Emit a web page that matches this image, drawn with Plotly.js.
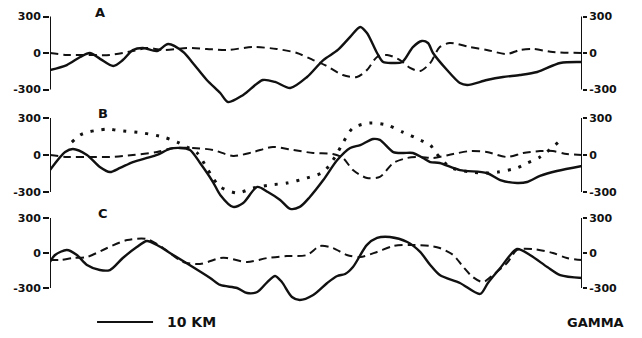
<!DOCTYPE html>
<html>
<head>
<meta charset="utf-8">
<script src="https://cdn.plot.ly/plotly-3.0.1.min.js"></script>
<style>html,body{margin:0;padding:0;background:#fff;}#chart{width:642px;height:338px;}</style>
</head>
<body>
<div id="chart"></div>
<script>
// ---- Data (distance in km, anomaly in gammas) ----
const panelLabels = ["A", "B", "C"];
const tickVals = [-300, 0, 300];
const tickText = ["-300", "0", "300"];
const scaleBarKm = 10;
const scaleBarLabel = "10 KM";
const unitLabel = "GAMMA";

// Panel A
const aSolidX = [0, 3.0, 5.4, 7.1, 9.0, 11.3, 13.0, 14.8, 16.6, 19.1, 21.1, 23.8, 25.5, 28.0, 30.4, 31.8, 34.5, 38.0, 40.2, 42.9, 45.9, 48.8, 51.4, 53.6, 55.4, 56.6, 58.4, 59.5, 61.1, 62.9, 64.8, 66.4, 67.5, 68.4, 70.9, 73.2, 74.5, 78.0, 80.9, 83.9, 87.0, 91.1, 95.0];
const aSolidY = [-140, -99, -33, 0, -50, -107, -58, 25, 41, 16, 74, 8, -82, -222, -329, -403, -345, -222, -238, -288, -197, -58, 25, 132, 214, 164, 0, -74, -82, -74, 49, 99, 82, 0, -140, -247, -263, -222, -197, -181, -156, -82, -74];
const aDashX = [0, 3.0, 6.6, 10.7, 14.8, 17.3, 20.2, 24.5, 28.0, 31.6, 36.3, 40.5, 44.1, 47.0, 49.1, 52.3, 54.8, 56.6, 58.4, 60.2, 62.5, 64.3, 66.1, 67.9, 69.6, 71.4, 75.0, 78.0, 81.6, 83.9, 86.3, 89.8, 95.0];
const aDashY = [0, -16, -16, -16, 16, 41, 25, 41, 33, 25, 49, 33, 0, -58, -99, -181, -197, -140, -33, -16, -58, -123, -148, -82, 49, 82, 49, 25, -8, 25, 33, 8, 0];

// Panel B
const bSolidX = [0, 2.7, 4.1, 6.6, 8.9, 10.7, 12.5, 14.8, 17.3, 19.1, 21.4, 23.2, 25.0, 26.8, 29.1, 30.4, 32.7, 34.5, 37.0, 38.9, 41.1, 42.9, 44.6, 46.4, 48.8, 51.3, 53.6, 55.4, 57.7, 58.9, 61.3, 63.0, 64.8, 66.6, 67.9, 69.6, 73.2, 78.0, 80.4, 83.4, 85.2, 87.5, 90.5, 95.0];
const bSolidY = [-122, 24, 49, 0, -97, -138, -105, -57, -24, 0, 49, 57, 41, -65, -219, -324, -421, -389, -259, -300, -365, -437, -421, -340, -203, -41, 57, 81, 130, 122, 24, 16, 16, -24, -57, -65, -122, -146, -203, -227, -219, -170, -130, -89];
const bDashX = [0, 3.0, 6.6, 10.7, 14.8, 19.1, 22.0, 25.5, 29.1, 32.7, 36.3, 39.8, 43.4, 47.0, 50.5, 52.3, 54.1, 56.6, 58.9, 61.3, 63.8, 66.1, 68.4, 72.0, 75.0, 78.0, 81.6, 84.5, 87.5, 89.8, 92.3, 95.0];
const bDashY = [0, -16, -16, -16, 0, 24, 57, 57, 41, -8, 24, 65, 41, 16, 8, -24, -122, -186, -178, -65, -24, -16, -24, 8, 32, 24, -16, 16, 32, 32, 8, 0];
const bDotX = [3.9, 5.4, 6.8, 8.4, 10.4, 12.0, 16.6, 20.2, 22.7, 24.5, 26.3, 28.0, 29.1, 30.4, 33.4, 36.3, 39.3, 42.3, 45.9, 48.8, 50.9, 52.3, 54.1, 57.1, 60.2, 63.0, 66.1, 67.9, 68.8, 71.4, 75.0, 78.0, 80.0, 83.4, 85.2, 87.5, 90.2, 91.6];
const bDotY = [105, 162, 186, 200, 210, 200, 178, 146, 105, 65, 16, -105, -186, -259, -308, -267, -243, -227, -186, -138, -16, 97, 219, 259, 243, 186, 122, 81, 24, -97, -138, -146, -138, -105, -65, -16, 81, 138];

// Panel C
const cSolidX = [0, 0.9, 3.0, 4.8, 6.6, 8.9, 10.7, 13.0, 15.5, 17.3, 19.1, 22.0, 25.5, 28.6, 30.4, 33.4, 35.2, 37.0, 38.8, 40.2, 41.4, 43.2, 44.6, 47.0, 49.5, 51.3, 52.7, 54.1, 56.6, 58.4, 60.7, 63.8, 66.1, 67.9, 69.6, 73.2, 76.8, 78.2, 80.4, 83.4, 85.7, 88.8, 91.1, 95.0];
const cSolidY = [-77, -17, 26, -17, -103, -146, -146, -43, 51, 103, 69, -17, -120, -214, -274, -300, -343, -334, -249, -197, -249, -377, -403, -360, -257, -197, -180, -120, 69, 129, 137, 94, 9, -103, -189, -257, -351, -257, -129, 34, -17, -120, -189, -214];
const cDashX = [0, 1.8, 4.1, 6.6, 10.2, 13.8, 17.3, 20.2, 23.8, 26.8, 30.4, 31.6, 35.2, 38.8, 42.3, 45.9, 48.2, 50.5, 53.0, 55.4, 58.4, 61.3, 64.3, 67.9, 69.6, 72.0, 73.8, 75.5, 77.3, 79.1, 81.6, 83.4, 86.3, 89.8, 92.3, 95.0];
const cDashY = [-60, -60, -43, -34, 43, 111, 120, 43, -77, -94, -43, -43, -77, -43, -26, -17, 60, 43, -17, -34, 9, 60, 69, 60, 43, -17, -120, -206, -249, -189, -86, 26, 34, 0, -43, -60];

// ---- Styling / layout ----
const W = 642, H = 338;
const FONT = "DejaVu Sans";
const INK = "#111";
// pixel placement of each panel: zero-line pixel, pixels per 300 gammas, visible range
const panels = [
  {zero: 53, px300: 36.5, range: [-480, 430]},
  {zero: 155, px300: 37, range: [-500, 400]},
  {zero: 253, px300: 35, range: [-600, 400]}
];
function domainFor(p) {
  const k = p.px300 / 300;
  const top = p.zero - p.range[1] * k;
  const bot = p.zero - p.range[0] * k;
  return [1 - bot / H, 1 - top / H];
}
const solid = {color: INK, width: 2.4, shape: "spline", smoothing: 0.8};
const dashed = {color: INK, width: 2, dash: "8px,5px", shape: "spline", smoothing: 0.8};
const dotted = {color: INK, width: 3, dash: "3px,8px", shape: "spline", smoothing: 0.8};

function tr(x, y, line, ax) {
  return {x: x, y: y, type: "scatter", mode: "lines", line: line, xaxis: "x", yaxis: ax, hoverinfo: "skip", showlegend: false};
}
// dashed curves are drawn on the right-hand (overlaying, same-range) axes so those axes render
const traces = [
  tr(aDashX, aDashY, dashed, "y4"),
  tr(aSolidX, aSolidY, solid, "y"),
  tr(bDotX, bDotY, dotted, "y2"),
  tr(bDashX, bDashY, dashed, "y5"),
  tr(bSolidX, bSolidY, solid, "y2"),
  tr(cDashX, cDashY, dashed, "y6"),
  tr(cSolidX, cSolidY, solid, "y3")
];

const tickFont = {family: FONT, size: 11, color: INK, weight: "bold"};
function yax(i, side, overlay) {
  const p = panels[i];
  const o = {
    range: p.range, showgrid: false, zeroline: false, showline: false,
    tickmode: "array", tickvals: tickVals, ticktext: tickText,
    ticks: "outside", ticklen: side === "left" ? 6 : 4, tickwidth: 2, tickcolor: INK,
    tickfont: tickFont, side: side, anchor: "x", fixedrange: true
  };
  if (overlay) { o.overlaying = overlay; } else { o.domain = domainFor(p); }
  return o;
}
const xmax = aSolidX[aSolidX.length - 1];
const layout = {
  width: W, height: H,
  margin: {l: 50, r: 60, t: 0, b: 0, pad: 0},
  paper_bgcolor: "#fff", plot_bgcolor: "rgba(0,0,0,0)",
  showlegend: false,
  xaxis: {range: [0, xmax], visible: false, fixedrange: true},
  yaxis: yax(0, "left"),
  yaxis2: yax(1, "left"),
  yaxis3: yax(2, "left"),
  yaxis4: yax(0, "right", "y"),
  yaxis5: yax(1, "right", "y2"),
  yaxis6: yax(2, "right", "y3"),
  shapes: [],
  annotations: []
};
["y", "y2", "y3"].forEach(function (ax) {
  [0, xmax].forEach(function (xv) {
    layout.shapes.push({type: "line", xref: "x", yref: ax, x0: xv, x1: xv, y0: tickVals[0], y1: tickVals[2], line: {color: INK, width: 2}});
  });
});
// scale bar
const barStart = 8.4;
const barY = 1 - 322 / H;
layout.shapes.push({type: "line", xref: "x", yref: "paper", x0: barStart, x1: barStart + scaleBarKm, y0: barY, y1: barY, line: {color: INK, width: 2}});

const labelFont = {family: FONT, size: 13, color: INK, weight: "bold"};
const labelPos = [[8.9, 1 - 13 / H], [9.4, 1 - 113 / H], [9.4, 1 - 213 / H]];
panelLabels.forEach(function (t, i) {
  layout.annotations.push({text: t, xref: "x", yref: "paper", x: labelPos[i][0], y: labelPos[i][1], showarrow: false, font: labelFont, xanchor: "center", yanchor: "middle"});
});
layout.annotations.push({text: scaleBarLabel, xref: "x", yref: "paper", x: barStart + scaleBarKm + 2.1, y: barY, showarrow: false, xanchor: "left", yanchor: "middle", font: {family: FONT, size: 14, color: INK, weight: "bold"}});
layout.annotations.push({text: unitLabel, xref: "paper", yref: "paper", x: (595 - 50) / 532, y: barY, showarrow: false, xanchor: "center", yanchor: "middle", font: {family: FONT, size: 13, color: INK, weight: "bold"}});

Plotly.newPlot("chart", traces, layout, {displayModeBar: false, staticPlot: true});
</script>
</body>
</html>
